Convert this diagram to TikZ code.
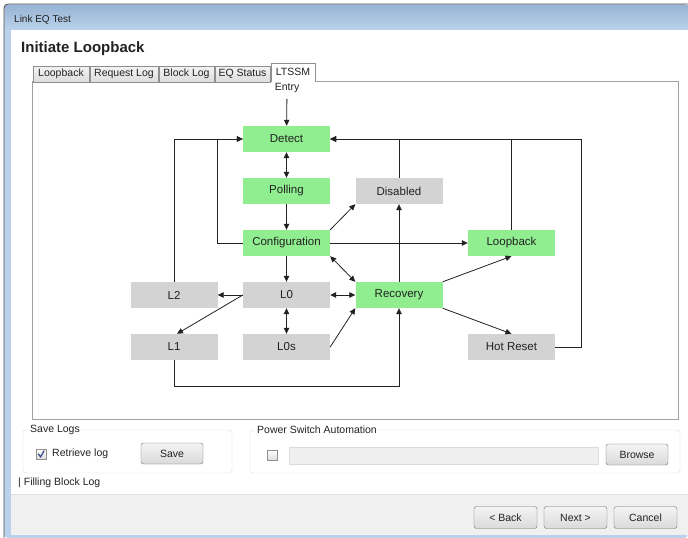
\documentclass[tikz,border=0pt]{standalone}
\usepackage{fontspec}
\setmainfont{Liberation Sans}
\usetikzlibrary{arrows.meta}
\definecolor{titletop}{HTML}{98B4D4}
\definecolor{titlebot}{HTML}{BAD2EA}
\definecolor{framecol}{HTML}{B9D1EA}
\definecolor{frameline}{HTML}{4A4A4A}
\definecolor{stategreen}{HTML}{90EE90}
\definecolor{stategray}{HTML}{D3D3D3}
\definecolor{panelline}{HTML}{A0A0A0}
\definecolor{tabline}{HTML}{8E8F8F}
\definecolor{tabtop}{HTML}{F4F4F4}
\definecolor{tabbot}{HTML}{DCDCDC}
\definecolor{grpline}{HTML}{D5DFE5}
\definecolor{btnline}{HTML}{707070}
\definecolor{btntop}{HTML}{F4F4F4}
\definecolor{btnbot}{HTML}{DADADA}
\definecolor{footbg}{HTML}{F0F0F0}
\definecolor{footline}{HTML}{DFDFDF}
\definecolor{fieldbg}{HTML}{EFEFEF}
\definecolor{fieldline}{HTML}{DADADA}
\definecolor{boxline}{HTML}{8F8F8F}
\definecolor{checkink}{HTML}{3C4E8C}
\definecolor{ink}{HTML}{222222}
\tikzset{
  ui/.style={font=\fontsize{10.5}{12}\selectfont, text=ink, inner sep=0pt},
  state/.style={minimum width=87pt, minimum height=26pt, inner sep=0pt,
    font=\fontsize{11.5}{13}\selectfont, text=ink},
  greenstate/.style={state, fill=stategreen},
  graystate/.style={state, fill=stategray},
  tip/.tip={Triangle[length=6pt,width=5.5pt]},
  arr/.style={draw=ink, line width=0.8pt, -tip},
  darr/.style={draw=ink, line width=0.8pt, tip-tip},
  tabbox/.style={ui, draw=tabline, top color=tabtop, bottom color=tabbot,
    minimum height=16pt},
  button/.style={ui, draw=btnline, rounded corners=2.5pt, top color=btntop,
    bottom color=btnbot, minimum width=63pt, minimum height=22pt},
  groupbox/.style={draw=grpline, rounded corners=3pt},
  grouplabel/.style={ui, fill=white, inner xsep=1.5pt, anchor=west},
  checkbox/.style={draw=boxline, top color=white, bottom color=tabbot},
}
\begin{document}
\begin{tikzpicture}[x=1pt,y=-1pt]
\useasboundingbox (0,0) rectangle (688,538);
\fill[white] (0,0) rectangle (688,538);

% window frame and title bar
\fill[framecol, rounded corners=4pt] (4,4) -- (688,4) -- (688,538) -- (4,538) -- cycle;
\shade[top color=titletop, bottom color=titlebot] (5,5) rectangle (688,30);
\draw[frameline, line width=0.8pt, rounded corners=4pt] (4,538) -- (4,4) -- (688,4);
\node[ui, font=\fontsize{10}{12}\selectfont, anchor=west] (title) at (14,20) {Link EQ Test};

% client area
\fill[white] (11,30) rectangle (688,535);
\fill[footbg] (11,494) rectangle (688,535);
\draw[footline] (11,494) -- (688,494);

\node[ui, font=\fontsize{15}{17}\selectfont\bfseries, anchor=west] (heading) at (21,49) {Initiate Loopback};

% tab page
\draw[panelline, fill=white] (32,81) rectangle (678,419);
\node[tabbox, minimum width=56pt] (tab1) at (61,74) {Loopback};
\node[tabbox, minimum width=68pt] (tab2) at (124,74) {Request Log};
\node[tabbox, minimum width=55pt] (tab3) at (186.5,74) {Block Log};
\node[tabbox, minimum width=55pt] (tab4) at (242.5,74) {EQ Status};
\fill[white] (271,63) rectangle (315,82);
\draw[tabline] (271,82) -- (271,63) -- (315,63) -- (315,81);
\node[ui] (tab5) at (293,72) {LTSSM};

% LTSSM state diagram
\node[ui] (entry) at (287,88) {Entry};
\node[greenstate] (detect)   at (286.5,139) {Detect};
\node[greenstate] (polling)  at (286.5,191) {Polling};
\node[greenstate] (config)   at (286.5,243) {Configuration};
\node[graystate]  (disabled) at (399,191)   {Disabled};
\node[greenstate] (loopback) at (511.5,243) {Loopback};
\node[graystate]  (l2)       at (174,295)   {L2};
\node[graystate]  (l0)       at (286.5,295) {L0};
\node[greenstate] (recovery) at (399,295)   {Recovery};
\node[graystate]  (l1)       at (174,347)   {L1};
\node[graystate]  (l0s)      at (286.5,347) {L0s};
\node[graystate]  (hotreset) at (511.5,347) {Hot Reset};

\draw[arr, shorten <=6pt] (entry) -- (detect);
\draw[darr] (detect) -- (polling);
\draw[arr] (polling) -- (config);
\draw[arr] (config.north east) -- (disabled.south west);
\draw[arr] (config) -- (loopback);
\draw[arr] (config.west) -- ++(-25,0) |- (detect.west);
\draw[arr] (l2.north) |- (detect.west);
\draw[darr] (config.south east) -- (recovery.north west);
\draw[arr] (config) -- (l0);
\draw[arr] (l0) -- (l2);
\draw[arr] (l0.west) -- ([xshift=3pt]l1.north);
\draw[darr] (l0) -- (recovery);
\draw[darr] (l0) -- (l0s);
\draw[arr] (l0s.east) -- (recovery.south west);
\draw[arr] (l1.south) -- ++(0,26) -| (recovery.south);
\draw[arr] (recovery) -- (disabled);
\draw[arr] (disabled.north) |- (detect.east);
\draw[arr] (loopback.north) |- (detect.east);
\draw[arr] (hotreset.east) -- ++(26,0) |- (detect.east);
\draw[arr] (recovery.north east) -- (loopback.south);
\draw[arr] (recovery.south east) -- (hotreset.north);

% Save Logs group
\draw[groupbox] (23,430) rectangle (232,473);
\node[grouplabel] (savelbl) at (28.5,430) {Save Logs};
\draw[checkbox] (36,449) rectangle (46,459);
\draw[checkink, line width=1.3pt] (38.2,453.8) -- (40.6,456.8) -- (44.2,450.6);
\node[ui, anchor=west] (retrieve) at (52,454) {Retrieve log};
\node[button, minimum width=62pt, minimum height=21pt] (save) at (172,453.5) {Save};

% Power Switch Automation group
\draw[groupbox] (250,430) rectangle (680,473);
\node[grouplabel] (powerlbl) at (255.5,430) {Power Switch Automation};
\draw[checkbox] (267,450) rectangle (277,460);
\draw[fieldline, fill=fieldbg] (289,447) rectangle (598,464);
\node[button, minimum width=62pt, minimum height=21pt] (browse) at (637,454.5) {Browse};

\node[ui, anchor=west] (status) at (18,483) {| Filling Block Log};

% wizard buttons
\node[button] (back)   at (505.5,517.5) {< Back};
\node[button] (next)   at (575.5,517.5) {Next >};
\node[button] (cancel) at (645.5,517.5) {Cancel};
\end{tikzpicture}
\end{document}
